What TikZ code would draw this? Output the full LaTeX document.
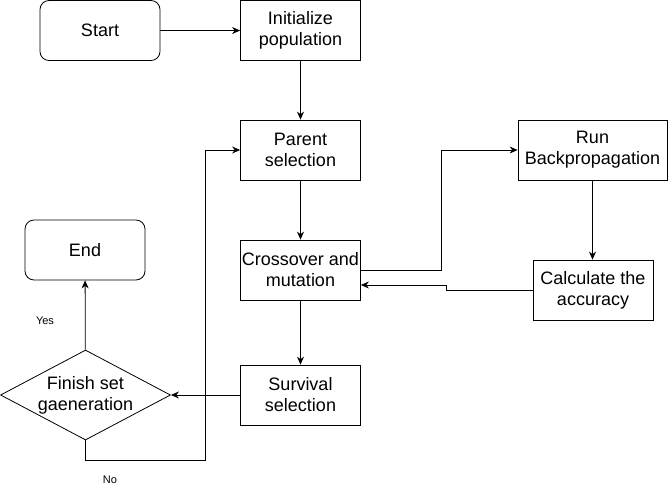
\documentclass[tikz,border=0pt]{standalone}
\usepackage{fontspec}
\setmainfont{Liberation Sans}
\usetikzlibrary{shapes.geometric,arrows.meta,calc}

\tikzset{
	stepbox/.style={draw, line width=0.8pt, minimum width=120pt, minimum height=60pt, inner sep=1pt, align=center, font=\fontsize{18}{21}\selectfont},
	roundbox/.style={stepbox, rounded corners=9pt},
	choice/.style={draw, line width=0.8pt, diamond, aspect=1.89, minimum width=170pt, minimum height=90pt, inner sep=0pt, align=center, font=\fontsize{18}{21}\selectfont},
	arr/.style={line width=0.8pt, -{Stealth[length=8pt,width=7pt]}},
	small/.style={font=\fontsize{11}{13}\selectfont}
}

\begin{document}
\begin{tikzpicture}[x=1pt,y=-1pt]
	\useasboundingbox (0,0) rectangle (669,491);

	\node[roundbox]		(start)		at (100,30.5)	{Start};
	\node[stepbox]		(init)		at (300.5,30.5)	{Initialize\\population};
	\node[stepbox]		(parent)	at (300.5,150)	{Parent\\selection};
	\node[stepbox]		(cross)		at (300.5,270)	{Crossover and\\mutation};
	\node[stepbox]		(survival)	at (300.5,395)	{Survival\\selection};
	\node[stepbox, minimum width=149pt]	(backprop)	at (592.5,150)	{Run\\Backpropagation};
	\node[stepbox]		(accuracy)	at (593,290)	{Calculate the\\accuracy};
	\node[roundbox]		(endnode)	at (85,250)		{End};
	\node[choice]		(finish)	at (85.5,395)	{Finish set\\gaeneration};

	\coordinate (loop) at (205,460);

	\draw[arr]	(start) -- (init);
	\draw[arr]	(init) -- (parent);
	\draw[arr]	(parent) -- (cross);
	\draw[arr]	(cross) -- (survival);
	\draw[arr]	(cross.east) -- ++(80,0) |- (backprop.west);
	\draw[arr]	(backprop.south) -- (backprop.south |- accuracy.north);
	\draw[arr]	(accuracy.west) -- ++(-86,0) -- ++(0,-5) -- ($(cross.east)+(0,15)$);
	\draw[arr]	(survival) -- (finish);
	\draw[arr]	(finish) -- (endnode);
	\draw[arr]	(finish.south) |- (loop) |- (parent.west);

	\node[small]	(yes)	at (45,321)		{Yes};
	\node[small]	(no)	at (110,480)	{No};
\end{tikzpicture}
\end{document}
